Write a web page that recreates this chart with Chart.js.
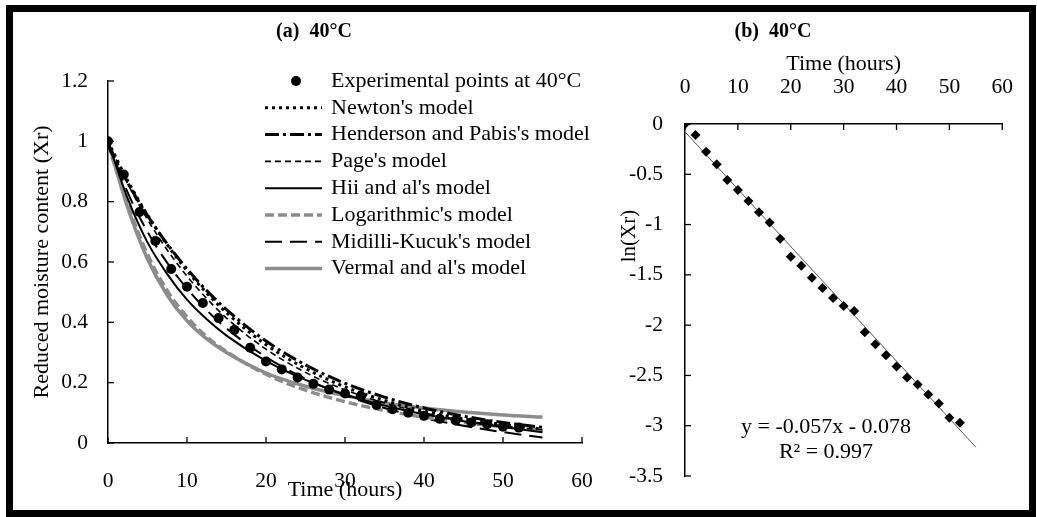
<!DOCTYPE html>
<html>
<head>
<meta charset="utf-8">
<script src="https://cdn.jsdelivr.net/npm/chart.js@4.4.0/dist/chart.umd.min.js"></script>
<style>
  html, body { margin: 0; padding: 0; background: #fff; }
  #wrap { position: relative; width: 1037px; height: 517px; overflow: hidden; background: #fff; }
  canvas { position: absolute; top: 0; }
  #left { left: 0; }
  #right { left: 600px; }
  #frame { position: absolute; left: 6px; top: 5px; width: 1016px; height: 498px; border: 7px solid #000; pointer-events: none; }
</style>
</head>
<body>
<div id="wrap">
  <canvas id="left" width="620" height="517"></canvas>
  <canvas id="right" width="437" height="517"></canvas>
  <div id="frame"></div>
</div>
<script>
// measured drying times (hours)
const hours = [0, 2, 4, 6, 8, 10, 12, 14, 16, 18, 20, 22, 24, 26, 28, 30, 32, 34, 36, 38, 40, 42, 44, 46, 48, 50, 52];
// reduced moisture content Xr, panel (a)
const expXr = [1, 0.89, 0.766, 0.67, 0.577, 0.518, 0.464, 0.414, 0.375, 0.316, 0.27, 0.244, 0.217, 0.196, 0.177, 0.164, 0.156, 0.126, 0.112, 0.100, 0.090, 0.080, 0.075, 0.068, 0.062, 0.054, 0.051];
// ln(Xr), panel (b)
const lnXr = [0, -0.11, -0.275, -0.40, -0.556, -0.656, -0.765, -0.877, -0.98, -1.14, -1.32, -1.41, -1.53, -1.63, -1.73, -1.81, -1.86, -2.07, -2.19, -2.30, -2.41, -2.52, -2.59, -2.69, -2.78, -2.92, -2.97];

// model curves read at these times
const modelHours = [0, 2.5, 5, 7.5, 10, 12.5, 15, 20, 25, 30, 35, 40, 45, 50, 55];
const newton    = [1, 0.869, 0.756, 0.657, 0.571, 0.497, 0.432, 0.326, 0.247, 0.186, 0.141, 0.106, 0.080, 0.061, 0.046];
const henderson = [0.985, 0.862, 0.754, 0.660, 0.577, 0.505, 0.442, 0.338, 0.259, 0.198, 0.152, 0.116, 0.089, 0.068, 0.052];
const page      = [1, 0.859, 0.741, 0.640, 0.553, 0.479, 0.414, 0.311, 0.234, 0.176, 0.133, 0.100, 0.075, 0.057, 0.043];
const hii       = [1, 0.81, 0.665, 0.560, 0.475, 0.410, 0.356, 0.272, 0.209, 0.161, 0.124, 0.095, 0.072, 0.053, 0.036];
const logarithmic = [0.99, 0.79, 0.625, 0.505, 0.418, 0.352, 0.303, 0.228, 0.175, 0.137, 0.108, 0.086, 0.068, 0.054, 0.043];
const midilli   = [1, 0.83, 0.700, 0.597, 0.512, 0.440, 0.380, 0.285, 0.213, 0.158, 0.116, 0.083, 0.057, 0.036, 0.018];
const vermal    = [1, 0.78, 0.610, 0.490, 0.405, 0.345, 0.300, 0.232, 0.188, 0.157, 0.133, 0.116, 0.103, 0.093, 0.086];

// linear trendline of ln(Xr)
const trendHours = [0, 55];
const trendLn = [-0.078, -3.213];

Chart.defaults.font.family = "'Liberation Serif', 'Times New Roman', serif";
Chart.defaults.font.size = 21.5;
Chart.defaults.color = '#000';

const pts = (xs, ys) => xs.map((x, i) => ({ x: x, y: ys[i] }));
const plain = v => String(+v.toFixed(2));

// tick marks pointing into the plot, like the original
const innerTicks = {
  id: 'innerTicks',
  afterDraw(chart) {
    const ctx = chart.ctx, a = chart.chartArea, len = 6;
    ctx.save();
    ctx.strokeStyle = '#000';
    ctx.lineWidth = 1.3;
    Object.values(chart.scales).forEach(s => {
      s.ticks.forEach(t => {
        const p = s.getPixelForValue(t.value);
        ctx.beginPath();
        if (s.axis === 'x') {
          const y0 = s.position === 'top' ? a.top : a.bottom;
          const dir = s.position === 'top' ? 1 : -1;
          ctx.moveTo(p, y0); ctx.lineTo(p, y0 + dir * len);
        } else {
          ctx.moveTo(a.left, p); ctx.lineTo(a.left + len, p);
        }
        ctx.stroke();
      });
    });
    ctx.restore();
  }
};

// free text: panel titles, rotated labels, equation
const freeText = {
  id: 'freeText',
  afterDraw(chart, args, opts) {
    const ctx = chart.ctx;
    (opts.items || []).forEach(it => {
      ctx.save();
      ctx.font = it.font;
      ctx.fillStyle = '#000';
      ctx.textAlign = 'center';
      ctx.textBaseline = 'middle';
      ctx.translate(it.x, it.y);
      if (it.rotate) ctx.rotate(-Math.PI / 2);
      ctx.fillText(it.text, 0, 0);
      ctx.restore();
    });
  }
};

// Excel-like legend stacked in the upper right of panel (a)
const sideLegend = {
  id: 'sideLegend',
  afterDraw(chart, args, o) {
    if (!o.show) return;
    const ctx = chart.ctx;
    chart.data.datasets.forEach((ds, i) => {
      const y = o.top + i * o.step;
      ctx.save();
      if (!ds.showLine) {
        ctx.fillStyle = ds.backgroundColor;
        ctx.beginPath();
        ctx.arc(o.markX, y, ds.pointRadius, 0, Math.PI * 2);
        ctx.fill();
      } else {
        ctx.strokeStyle = ds.borderColor;
        ctx.lineWidth = ds.borderWidth;
        ctx.setLineDash(ds.borderDash || []);
        ctx.beginPath();
        ctx.moveTo(o.x0, y); ctx.lineTo(o.x1, y);
        ctx.stroke();
      }
      ctx.setLineDash([]);
      ctx.fillStyle = '#000';
      ctx.font = "22px 'Liberation Serif', serif";
      ctx.textAlign = 'left';
      ctx.textBaseline = 'middle';
      ctx.fillText(ds.label, o.textX, y);
      ctx.restore();
    });
  }
};

const modelLine = (label, ys, color, width, dash) => ({
  label: label,
  data: pts(modelHours, ys),
  showLine: true,
  pointRadius: 0,
  borderColor: color,
  borderWidth: width,
  borderDash: dash,
  cubicInterpolationMode: 'monotone',
  fill: false
});

new Chart(document.getElementById('left'), {
  type: 'scatter',
  data: {
    datasets: [
      { label: 'Experimental points at 40°C', data: pts(hours, expXr), showLine: false,
        pointRadius: 5, backgroundColor: '#000', borderColor: '#000', borderWidth: 0 },
      modelLine("Newton's model", newton, '#000', 3, [3, 4]),
      modelLine("Henderson and Pabis's model", henderson, '#000', 3, [14, 4, 3, 4]),
      modelLine("Page's model", page, '#000', 1.6, [6, 4]),
      modelLine("Hii and al's model", hii, '#000', 2, []),
      modelLine("Logarithmic's model", logarithmic, '#8c8c8c', 3.5, [9, 4]),
      modelLine("Midilli-Kucuk's model", midilli, '#000', 2, [17, 8]),
      modelLine("Vermal and al's model", vermal, '#8c8c8c', 3.5, [])
    ]
  },
  options: {
    responsive: false,
    animation: false,
    devicePixelRatio: 1,
    layout: { padding: { top: 81, right: 38, bottom: 0, left: 0 } },
    plugins: {
      legend: { display: false },
      tooltip: { enabled: false },
      sideLegend: { show: true, top: 81, step: 26.8, x0: 265, x1: 322, markX: 296, textX: 331 },
      freeText: { items: [
        { text: '(a)  40°C', x: 314, y: 32, font: "bold 20px 'Liberation Serif', serif" }
      ] }
    },
    scales: {
      x: {
        type: 'linear', min: 0, max: 60,
        ticks: { stepSize: 10, padding: 25, callback: plain },
        grid: { display: false, drawTicks: false },
        border: { color: '#000', width: 1.5 },
        title: { display: true, text: 'Time (hours)', font: { size: 22 }, padding: { top: 0, bottom: 14 } },
        afterFit(s) { s.height = 74; }
      },
      y: {
        min: 0, max: 1.2,
        ticks: { stepSize: 0.2, padding: 20, callback: plain },
        grid: { display: false, drawTicks: false },
        border: { color: '#000', width: 1.5 },
        title: { display: true, text: 'Reduced moisture content (Xr)', font: { size: 22 }, padding: { top: 29, bottom: 0 } },
        afterFit(s) { s.width = 108; }
      }
    }
  },
  plugins: [innerTicks, freeText, sideLegend]
});

new Chart(document.getElementById('right'), {
  type: 'scatter',
  data: {
    datasets: [
      { label: 'ln(Xr)', data: pts(hours, lnXr), showLine: false, pointStyle: 'rectRot',
        pointRadius: 5, backgroundColor: '#000', borderColor: '#000', borderWidth: 0 },
      { label: 'Linear (ln(Xr))', data: pts(trendHours, trendLn), showLine: true, pointRadius: 0,
        borderColor: '#555', borderWidth: 1 }
    ]
  },
  options: {
    responsive: false,
    animation: false,
    devicePixelRatio: 1,
    layout: { padding: { top: 0, right: 34, bottom: 41, left: 0 } },
    plugins: {
      legend: { display: false },
      tooltip: { enabled: false },
      freeText: { items: [
        { text: '(b)  40°C', x: 173, y: 32, font: "bold 20px 'Liberation Serif', serif" },
        { text: 'ln(Xr)', x: 29, y: 236, rotate: true, font: "21px 'Liberation Serif', serif" },
        { text: 'y = -0.057x - 0.078', x: 226, y: 427, font: "22px 'Liberation Serif', serif" },
        { text: 'R² = 0.997', x: 226, y: 452, font: "22px 'Liberation Serif', serif" }
      ] }
    },
    scales: {
      x: {
        type: 'linear', position: 'top', min: 0, max: 60,
        ticks: { stepSize: 10, padding: 24, callback: plain },
        grid: { display: false, drawTicks: false },
        border: { color: '#000', width: 1.5 },
        title: { display: true, text: 'Time (hours)', font: { size: 22 }, padding: { top: 51, bottom: 0 } },
        afterFit(s) { s.height = 124; }
      },
      y: {
        min: -3.5, max: 0,
        ticks: { stepSize: 0.5, padding: 22, callback: plain },
        grid: { display: false, drawTicks: false },
        border: { color: '#000', width: 1.5 },
        afterFit(s) { s.width = 85; }
      }
    }
  },
  plugins: [innerTicks, freeText]
});
</script>
</body>
</html>
